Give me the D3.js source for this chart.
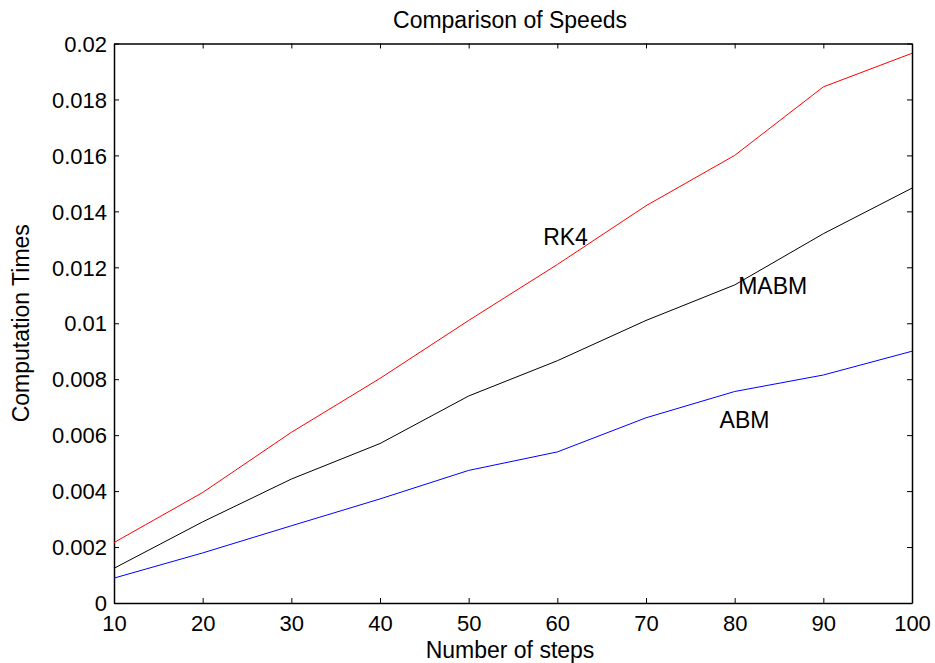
<!DOCTYPE html>
<html>
<head>
<meta charset="utf-8">
<script src="https://cdn.jsdelivr.net/npm/d3@7"></script>
<style>
  body { margin: 0; background: #fff; }
  text { font-family: "Liberation Sans", Arial, sans-serif; fill: #000; }
</style>
</head>
<body>
<div id="chart"></div>
<script>
// data
var steps = [10, 20, 30, 40, 50, 60, 70, 80, 90, 100];
var rk4  = [0.00216, 0.00395, 0.0061, 0.00803, 0.0101, 0.0121, 0.0142, 0.0160, 0.01845, 0.01965];
var mabm = [0.00124, 0.0029, 0.00443, 0.0057, 0.0074, 0.00866, 0.0101, 0.01137, 0.0132, 0.01483];
var abm  = [0.00089, 0.00179, 0.00276, 0.00372, 0.00474, 0.0054, 0.00662, 0.00756, 0.00815, 0.009];
var yTicks = [0, 0.002, 0.004, 0.006, 0.008, 0.01, 0.012, 0.014, 0.016, 0.018, 0.02];
var xTicks = [10, 20, 30, 40, 50, 60, 70, 80, 90, 100];

var W = 935, H = 663;
var margin = {top: 43.5, right: 23, bottom: 60, left: 114};
var iw = W - margin.left - margin.right,
    ih = H - margin.top - margin.bottom;

var svg = d3.select("#chart").append("svg")
    .attr("width", W)
    .attr("height", H);

var g = svg.append("g")
    .attr("transform", "translate(" + margin.left + "," + margin.top + ")");

var x = d3.scaleLinear().domain([10, 100]).range([0, iw]);
var y = d3.scaleLinear().domain([0, 0.02]).range([ih, 0]);

function fmt(d) { return d === 0 ? "0" : String(+d.toFixed(3)); }

// axes, ticks pointing inward like matlab
var xb = g.append("g").attr("transform", "translate(0," + ih + ")")
    .call(d3.axisBottom(x).tickValues(xTicks).tickSizeInner(-5).tickSizeOuter(0).tickPadding(12).tickFormat(d3.format("d")));
var xt = g.append("g")
    .call(d3.axisTop(x).tickValues(xTicks).tickSizeInner(-5).tickSizeOuter(0).tickFormat(""));
var yl = g.append("g")
    .call(d3.axisLeft(y).tickValues(yTicks).tickSizeInner(-5).tickSizeOuter(0).tickPadding(7).tickFormat(fmt));
var yr = g.append("g").attr("transform", "translate(" + iw + ",0)")
    .call(d3.axisRight(y).tickValues(yTicks).tickSizeInner(-5).tickSizeOuter(0).tickFormat(""));

[xb, xt, yl, yr].forEach(function (a) {
    a.selectAll("path").attr("stroke", "#000").attr("stroke-width", 1.5);
    a.selectAll("line").attr("stroke", "#000").attr("stroke-width", 1);
    a.selectAll("text").style("font-size", "22px").style("font-family", "'Liberation Sans', Arial, sans-serif").attr("fill", "#000");
});
yl.selectAll("text").attr("dy", "0.35em");

// lines
var line = d3.line()
    .x(function (d, i) { return x(steps[i]); })
    .y(function (d) { return y(d); });

var series = [
    {vals: rk4, color: "#ff0000"},
    {vals: mabm, color: "#000000"},
    {vals: abm, color: "#0000ff"}
];
series.forEach(function (s) {
    g.append("path")
        .datum(s.vals)
        .attr("fill", "none")
        .attr("stroke", s.color)
        .attr("stroke-width", 1)
        .attr("d", line);
});

// line labels
var labels = [
    {t: "RK4", xv: 58.4, yv: 0.0128},
    {t: "MABM", xv: 80.4, yv: 0.01105},
    {t: "ABM", xv: 78.3, yv: 0.00627}
];
g.selectAll(".lbl").data(labels).enter().append("text")
    .attr("class", "lbl")
    .attr("x", function (d) { return x(d.xv); })
    .attr("y", function (d) { return y(d.yv); })
    .style("font-size", "23px")
    .text(function (d) { return d.t; });

// titles
svg.append("text")
    .attr("x", 510)
    .attr("y", 28)
    .attr("text-anchor", "middle")
    .style("font-size", "23px")
    .text("Comparison of Speeds");

svg.append("text")
    .attr("x", 510)
    .attr("y", 658)
    .attr("text-anchor", "middle")
    .style("font-size", "23px")
    .text("Number of steps");

svg.append("text")
    .attr("transform", "translate(29," + (margin.top + ih / 2) + ") rotate(-90)")
    .attr("text-anchor", "middle")
    .style("font-size", "23px")
    .text("Computation Times");
</script>
</body>
</html>
